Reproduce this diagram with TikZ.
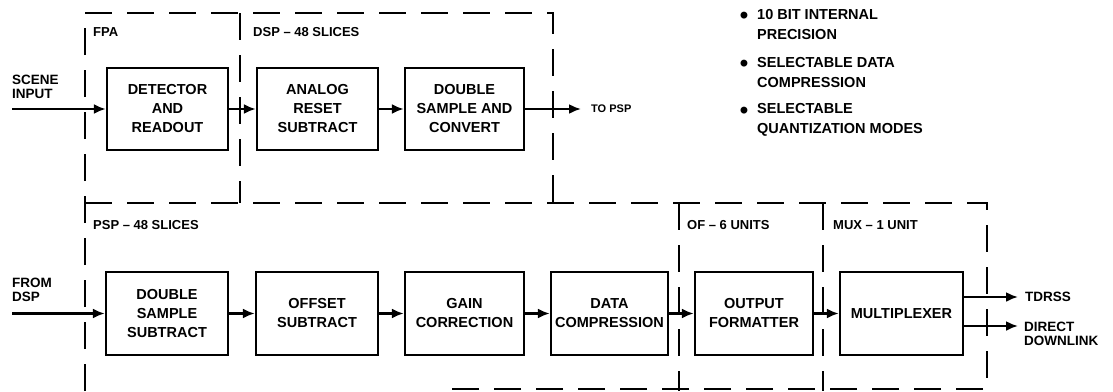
\documentclass[tikz,border=0pt]{standalone}
\usepackage{fontspec}
\setmainfont{Liberation Sans}
\usetikzlibrary{arrows.meta}
\begin{document}
\begin{tikzpicture}[x=1pt,y=-1pt,
  blk/.style={draw, line width=2.3pt, font=\fontsize{14.5}{19}\selectfont\bfseries, align=center, inner sep=0pt},
  frame/.style={line width=2.2pt, dash pattern=on 27pt off 15pt},
  lbl/.style={font=\fontsize{13}{15}\selectfont\bfseries, inner sep=0pt, anchor=west},
  io/.style={font=\fontsize{13.5}{14}\selectfont\bfseries, inner sep=0pt, align=left, anchor=west},
  small/.style={font=\fontsize{11}{13}\selectfont\bfseries, inner sep=0pt, anchor=west},
  note/.style={font=\fontsize{14.5}{20}\selectfont\bfseries, inner sep=0pt, align=left, anchor=west},
  dot/.style={font=\fontsize{24}{24}\selectfont\bfseries, inner sep=0pt},
  arr/.style={line width=2.3pt, -{Latex[length=12pt,width=10pt]}}]
\useasboundingbox (0,0) rectangle (1113,391);

% dashed frames
\draw[frame] (85,391) -- (85,13) -- (553,13) -- (553,203);
\draw[frame] (85,203) -- (987,203) -- (987,389) -- (440,389);
\draw[frame] (240,13) -- (240,203);
\draw[frame] (679,203) -- (679,391);
\draw[frame] (823,203) -- (823,391);

% frame labels
\node[lbl] (lfpa) at (93,32) {FPA};
\node[lbl] (ldsp) at (253,32) {DSP – 48 SLICES};
\node[lbl] (lpsp) at (93,225) {PSP – 48 SLICES};
\node[lbl] (lof) at (687,225) {OF – 6 UNITS};
\node[lbl] (lmux) at (833,225) {MUX – 1 UNIT};

% top row
\node[blk, minimum width=121pt, minimum height=82pt] (det) at (167.5,109) {DETECTOR\\AND\\READOUT};
\node[blk, minimum width=121pt, minimum height=82pt] (ana) at (317.5,109) {ANALOG\\RESET\\SUBTRACT};
\node[blk, minimum width=119pt, minimum height=82pt] (dsc) at (464.5,109) {DOUBLE\\SAMPLE AND\\CONVERT};

% bottom row
\node[blk, minimum width=122pt, minimum height=83pt] (dss) at (167,313.5) {DOUBLE\\SAMPLE\\SUBTRACT};
\node[blk, minimum width=122pt, minimum height=83pt] (off) at (317,313.5) {OFFSET\\SUBTRACT};
\node[blk, minimum width=119pt, minimum height=83pt] (gain) at (464.5,313.5) {GAIN\\CORRECTION};
\node[blk, minimum width=117pt, minimum height=83pt] (dc) at (609.5,313.5) {DATA\\COMPRESSION};
\node[blk, minimum width=118pt, minimum height=83pt] (of) at (754,313.5) {OUTPUT\\FORMATTER};
\node[blk, minimum width=123pt, minimum height=83pt] (mux) at (901.5,313.5) {MULTIPLEXER};

% inputs / outputs
\node[io] (scene) at (12,87) {SCENE\\INPUT};
\coordinate (scin) at (12,109);
\node[io] (fromdsp) at (12,290) {FROM\\DSP};
\coordinate (fdin) at (12,313.5);
\coordinate (topsp) at (581,109);
\node[small] (ttopsp) at (591,109) {TO PSP};
\coordinate (tdrssend) at (1018,297);
\coordinate (ddend) at (1018,326);
\node[io] (ttdrss) at (1025,297) {TDRSS};
\node[io] (tdd) at (1024,334) {DIRECT\\DOWNLINK};

% connectors
\draw[arr] (scin) -- (det.west);
\draw[arr] (det) -- (ana);
\draw[arr] (ana) -- (dsc);
\draw[arr] (dsc.east) -- (topsp);
\draw[arr] (fdin) -- (dss.west);
\draw[arr] (dss) -- (off);
\draw[arr] (off) -- (gain);
\draw[arr] (gain) -- (dc);
\draw[arr] (dc) -- (of);
\draw[arr] (of) -- (mux);
\draw[arr] (mux.east |- tdrssend) -- (tdrssend);
\draw[arr] (mux.east |- ddend) -- (ddend);

% notes
\node[dot] (b1) at (744,18) {•};
\node[note] (n1) at (757,25) {10 BIT INTERNAL\\PRECISION};
\node[dot] (b2) at (744,66) {•};
\node[note] (n2) at (757,73) {SELECTABLE DATA\\COMPRESSION};
\node[dot] (b3) at (744,113) {•};
\node[note] (n3) at (757,120) {SELECTABLE\\QUANTIZATION MODES};
\end{tikzpicture}
\end{document}
